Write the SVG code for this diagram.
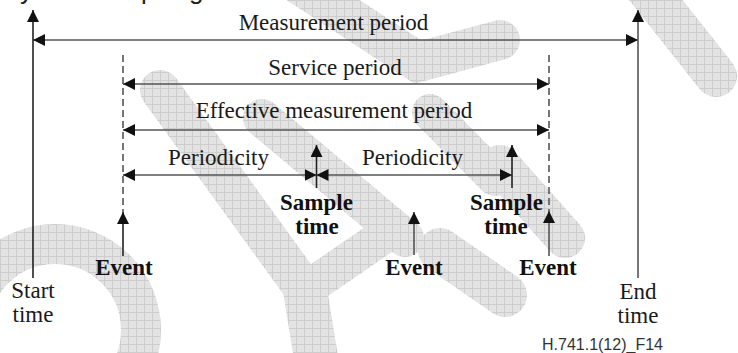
<svg xmlns="http://www.w3.org/2000/svg" width="738" height="353" viewBox="0 0 738 353">
<defs>
<pattern id="wm" width="8" height="8" patternUnits="userSpaceOnUse">
<rect width="8" height="8" fill="#e3e3e3"/>
<path d="M0,0.5H8M0.5,0V8" stroke="#cdcdcd" stroke-width="1"/>
</pattern>
<marker id="ah" viewBox="0 0 12 12" refX="12" refY="6" markerWidth="12" markerHeight="12" markerUnits="userSpaceOnUse" orient="auto-start-reverse">
<path d="M0,0L12,6L0,12z" fill="#111"/>
</marker>
</defs>
<style>
.w{fill:none;stroke:url(#wm);stroke-linecap:round;stroke-linejoin:miter}
.ln{fill:none;stroke:#555;stroke-width:1.6}
.vl{fill:none;stroke:#222;stroke-width:1.6}
.ds{fill:none;stroke:#555;stroke-width:1.6;stroke-dasharray:7 4}
.t{font-family:"Liberation Serif","Times New Roman",serif;font-size:23px;fill:#1a1a1a;text-anchor:middle}
.b{font-weight:bold;fill:#111}
.s{font-family:"Liberation Sans",Arial,sans-serif;font-size:16px;fill:#333}
</style>
<g id="watermark">
<path class="w" d="M300,-15L418,62L500,40" stroke-width="40"/>
<path class="w" d="M640,-20L716,76" stroke-width="42"/>
<path class="w" d="M160,90L305,290" stroke-width="40"/>
<path class="w" d="M305,290L385,235" stroke-width="36"/>
<path class="w" d="M305,290L318,370" stroke-width="44"/>
<path class="w" d="M262,118L405,238" stroke-width="38"/>
<path class="w" d="M430,112L495,178" stroke-width="36"/>
<path class="w" d="M500,165L565,238" stroke-width="40"/>
<path class="w" d="M440,250L505,295" stroke-width="44"/>
<circle cx="55" cy="330" r="86" fill="none" stroke="url(#wm)" stroke-width="40"/>
</g>
<g id="top-clip" font-family="Liberation Sans,Arial,sans-serif" font-size="26" fill="#222">
<text x="20" y="-1">y</text>
<text x="141" y="-1">p</text>
<text x="189" y="-1">g</text>
</g>
<g id="connectors">
<line class="ln" x1="33" y1="40" x2="638" y2="40" marker-start="url(#ah)" marker-end="url(#ah)"/>
<line class="ln" x1="123" y1="84" x2="549" y2="84" marker-start="url(#ah)" marker-end="url(#ah)"/>
<line class="ln" x1="123" y1="130" x2="549" y2="130" marker-start="url(#ah)" marker-end="url(#ah)"/>
<line class="ln" x1="123" y1="175" x2="316.5" y2="175" marker-start="url(#ah)" marker-end="url(#ah)"/>
<line class="ln" x1="316.5" y1="175" x2="512" y2="175" marker-start="url(#ah)" marker-end="url(#ah)"/>
<line class="ds" x1="123" y1="55" x2="123" y2="212"/>
<line class="ds" x1="549" y1="55" x2="549" y2="212"/>
</g>
<g id="start-time">
<line class="vl" x1="33" y1="278" x2="33" y2="10" marker-end="url(#ah)"/>
<text class="t" x="33" y="298">Start</text>
<text class="t" x="33" y="322">time</text>
</g>
<g id="end-time">
<line class="ln" x1="638" y1="278" x2="638" y2="10" marker-end="url(#ah)"/>
<text class="t" x="638" y="299">End</text>
<text class="t" x="638" y="323">time</text>
</g>
<g id="labels">
<text class="t" x="333.5" y="30">Measurement period</text>
<text class="t" x="335" y="75">Service period</text>
<text class="t" x="334" y="118">Effective measurement period</text>
<text class="t" x="218.5" y="165">Periodicity</text>
<text class="t" x="412.5" y="165">Periodicity</text>
</g>
<g id="sample1">
<line class="vl" x1="316.5" y1="188" x2="316.5" y2="145" marker-end="url(#ah)"/>
<text class="t b" x="316.5" y="210">Sample</text>
<text class="t b" x="317" y="234">time</text>
</g>
<g id="sample2">
<line class="vl" x1="512" y1="188" x2="512" y2="145" marker-end="url(#ah)"/>
<text class="t b" x="506.5" y="210">Sample</text>
<text class="t b" x="506" y="234">time</text>
</g>
<g id="event1">
<line class="vl" x1="123" y1="256" x2="123" y2="212" marker-end="url(#ah)"/>
<text class="t b" x="124" y="275">Event</text>
</g>
<g id="event2">
<line class="ln" x1="414" y1="255" x2="414" y2="212" marker-end="url(#ah)"/>
<text class="t b" x="414" y="275">Event</text>
</g>
<g id="event3">
<line class="ln" x1="549" y1="256" x2="549" y2="211" marker-end="url(#ah)"/>
<text class="t b" x="548" y="275">Event</text>
</g>
<text class="s" x="542" y="350">H.741.1(12)_F14</text>
</svg>
